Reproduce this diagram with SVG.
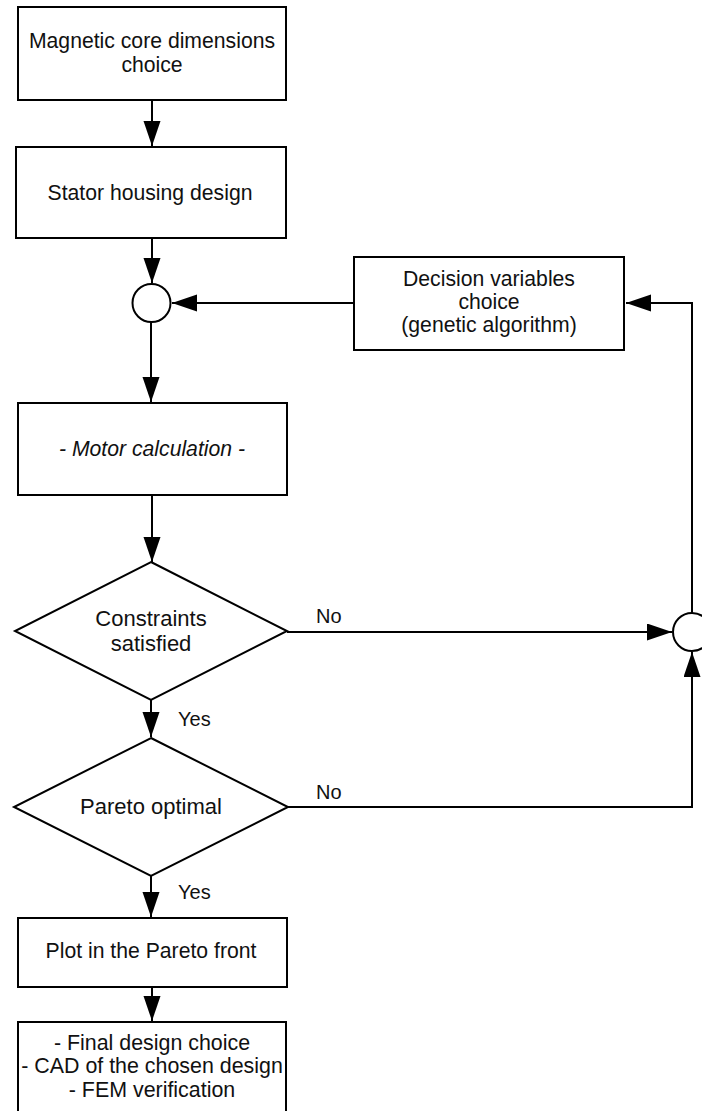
<svg xmlns="http://www.w3.org/2000/svg" width="702" height="1111" viewBox="0 0 702 1111">
<style>
.n{fill:#fff;stroke:#000;stroke-width:2}
.t{font-family:"Liberation Sans",Arial,sans-serif;font-size:21.2px;fill:#111;text-anchor:middle}
.b{font-size:22px}
.f{font-size:21.4px}
.l{font-family:"Liberation Sans",Arial,sans-serif;font-size:20px;fill:#111}
.c{fill:none;stroke:#000;stroke-width:2}
</style>
<defs>
<marker id="ah" markerUnits="userSpaceOnUse" markerWidth="26" markerHeight="18" refX="25" refY="8.5" orient="auto">
<path d="M0,0 L25,8.5 L0,17 z" fill="#000"/>
</marker>
</defs>
<rect width="702" height="1111" fill="#fff"/>
<g id="connectors">
<line class="c" x1="152" y1="100" x2="152" y2="146" marker-end="url(#ah)"/>
<line class="c" x1="152" y1="238" x2="152" y2="283" marker-end="url(#ah)"/>
<line class="c" x1="354" y1="303" x2="172" y2="303" marker-end="url(#ah)"/>
<line class="c" x1="151" y1="322" x2="151" y2="402" marker-end="url(#ah)"/>
<line class="c" x1="152" y1="495" x2="152" y2="562" marker-end="url(#ah)"/>
<line class="c" x1="151" y1="700" x2="151" y2="737" marker-end="url(#ah)"/>
<line class="c" x1="151" y1="876" x2="151" y2="917" marker-end="url(#ah)"/>
<line class="c" x1="152" y1="987" x2="152" y2="1021" marker-end="url(#ah)"/>
<line class="c" x1="287" y1="632" x2="672" y2="632" marker-end="url(#ah)"/>
<polyline class="c" points="288,807 692,807 692,652" marker-end="url(#ah)"/>
<polyline class="c" points="692,613 692,303 626,303" marker-end="url(#ah)"/>
</g>
<g id="n1">
<rect class="n" x="18" y="7" width="268" height="93"/>
<text class="t" x="152" y="48">Magnetic core dimensions</text>
<text class="t" x="152" y="72">choice</text>
</g>
<g id="n2">
<rect class="n" x="16" y="147" width="270" height="91"/>
<text class="t" x="150" y="200">Stator housing design</text>
</g>
<g id="j1">
<circle class="n" cx="151.5" cy="303" r="19"/>
</g>
<g id="n3">
<rect class="n" x="354" y="257" width="270" height="93"/>
<text class="t" x="489" y="286">Decision variables</text>
<text class="t" x="489" y="309">choice</text>
<text class="t" x="489" y="332">(genetic algorithm)</text>
</g>
<g id="n4">
<rect class="n" x="18" y="403" width="269" height="92"/>
<text class="t" x="152" y="456" font-style="italic">- Motor calculation -</text>
</g>
<g id="d1">
<polygon class="n" points="151,562 287,631 151,700 15,631"/>
<text class="t b" x="151" y="626">Constraints</text>
<text class="t b" x="151" y="651">satisfied</text>
</g>
<g id="j2">
<circle class="n" cx="692" cy="632" r="19"/>
</g>
<g id="d2">
<polygon class="n" points="151,738 288,807 151,876 14,807"/>
<text class="t b" x="151" y="814">Pareto optimal</text>
</g>
<g id="n5">
<rect class="n" x="18" y="918" width="269" height="69"/>
<text class="t" x="151" y="958">Plot in the Pareto front</text>
</g>
<g id="n6">
<rect class="n" x="18" y="1022" width="268" height="100"/>
<text class="t f" x="152" y="1050">- Final design choice</text>
<text class="t f" x="152" y="1073">- CAD of the chosen design</text>
<text class="t f" x="152" y="1097">- FEM verification</text>
</g>
<g id="labels">
<text class="l" x="316" y="623">No</text>
<text class="l" x="316" y="799">No</text>
<text class="l" x="178" y="726">Yes</text>
<text class="l" x="178" y="899">Yes</text>
</g>
</svg>
